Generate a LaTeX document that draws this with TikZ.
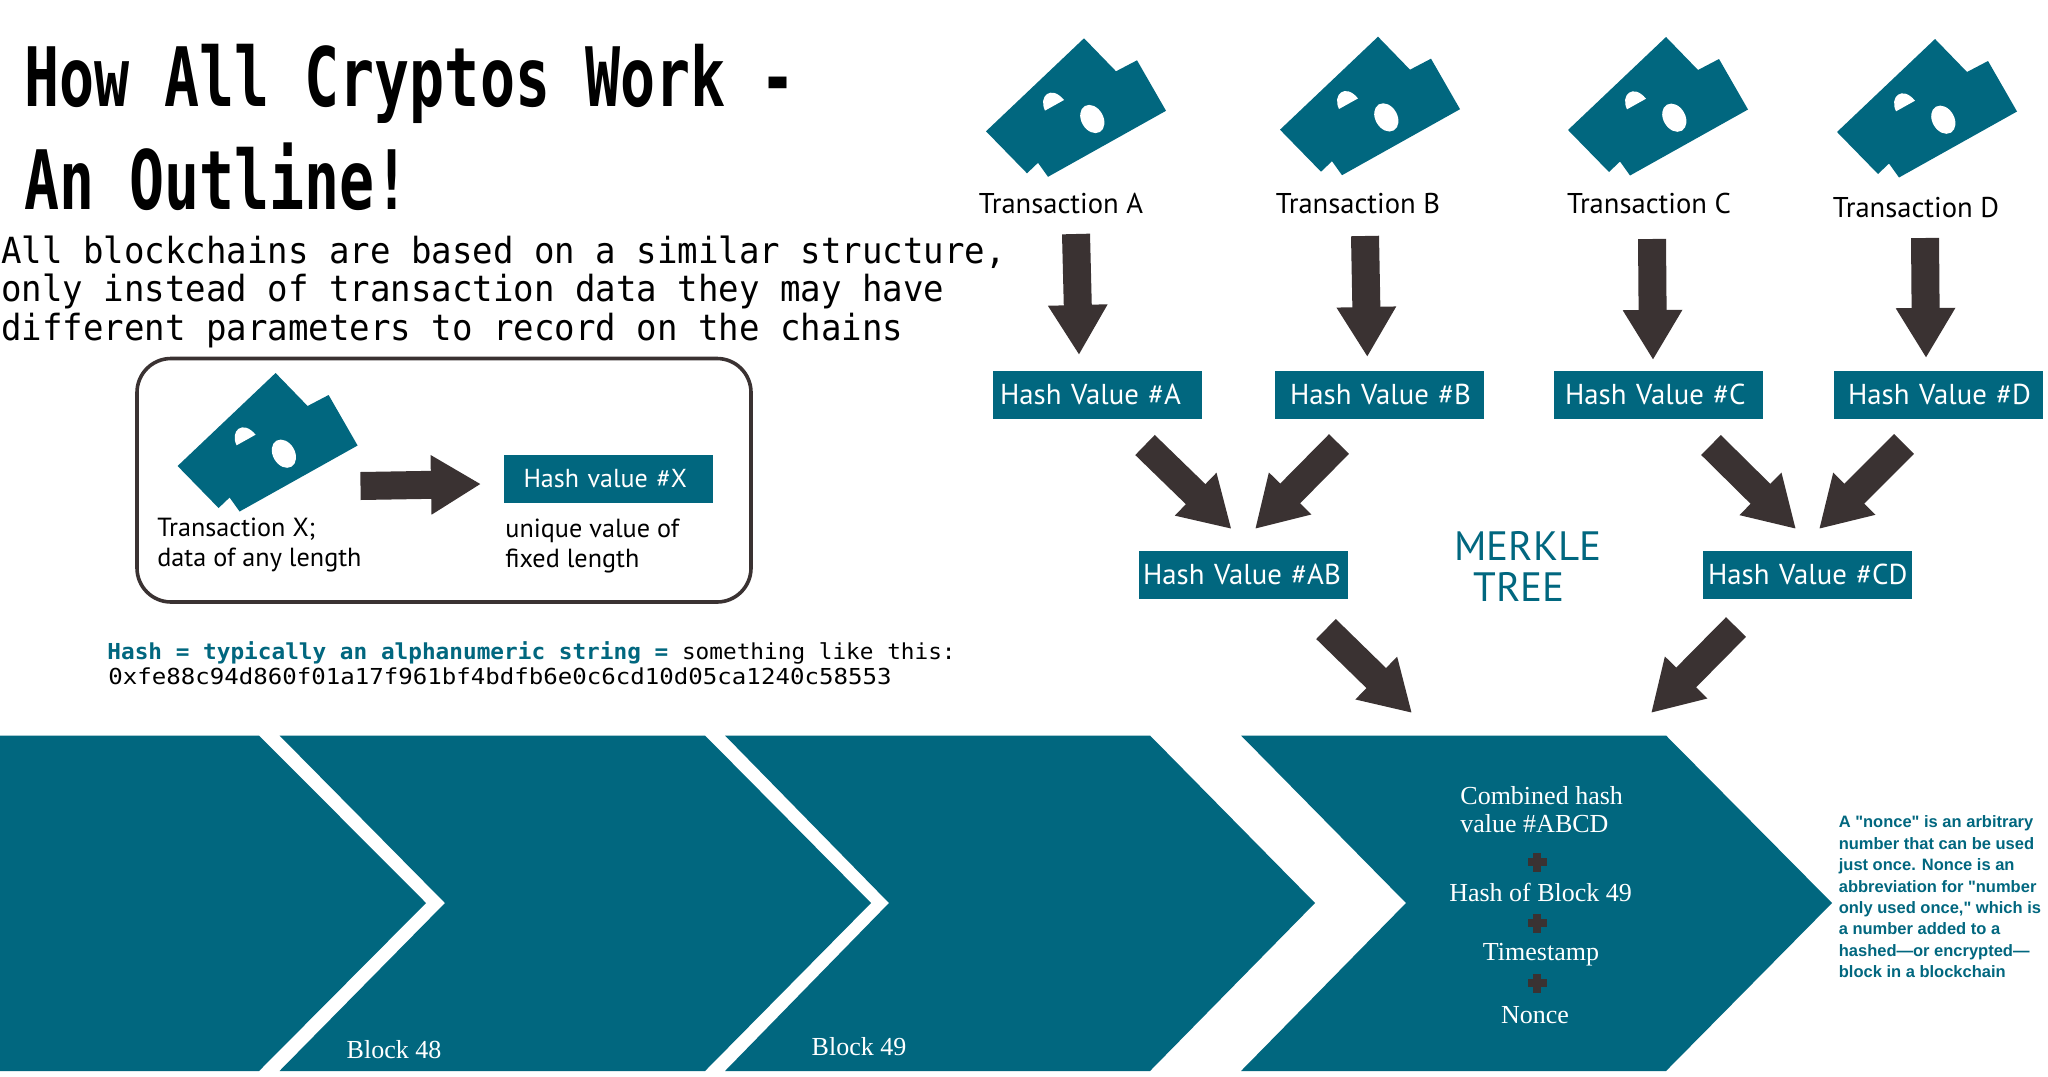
\documentclass[tikz,border=0pt]{standalone}
\usepackage{fontspec}
\usetikzlibrary{arrows.meta}
\setmainfont{PT Sans}
\newfontfamily\titlefont[FakeStretch=0.71]{DejaVu Sans Mono}
\newfontfamily\bodyfont[FakeStretch=0.946]{DejaVu Sans Mono}
\newfontfamily\hashfont[FakeStretch=1.033]{DejaVu Sans Mono}
\newfontfamily\hexfont[FakeStretch=1.095]{DejaVu Sans Mono}
\newfontfamily\decofont{Liberation Serif}
\newfontfamily\noncefont{Liberation Sans}
\newcommand{\fs}[1]{\fontsize{#1}{#1}\selectfont}
\newcommand{\hv}[2]{\hspace*{#1pt}\raisebox{1pt}{#2}}
\definecolor{tealc}{HTML}{01677F}
\definecolor{darkc}{HTML}{3A3232}
\tikzset{
  fatarrow/.style={draw=darkc,line width=14pt,-{Triangle[length=25pt,width=28pt]}},
  hashbox/.style={fill=tealc,text=white,minimum width=104.5pt,text width=104.5pt,align=left,minimum height=24pt,inner sep=0pt,font=\fs{14.4}},
  txlabel/.style={inner sep=0pt,anchor=base,font=\fs{14.3},text=black},
  plainlabel/.style={inner sep=0pt,anchor=base west,font=\fs{13.1},text=black},
  decolabel/.style={inner sep=0pt,text=white,font=\decofont\fs{13}},
  chevron/.style={fill=tealc,draw=none},
}
\newcommand{\ticket}[2]{%
  \begin{scope}[shift={(#1,#2)}]
    \fill[tealc] (0,0) -- (32,33) -- (53,22) -- (82,72.5) -- (-36,138.5) -- (-46,124.5) -- (-57,135) -- (-98,93) -- cycle;
    \fill[white] (-39,72.3) .. controls (-46,58) and (-33,46) .. (-20,61.7) -- cycle;
    \fill[white] (8.3,80.7) ellipse [x radius=15,y radius=11,rotate=-60];
  \end{scope}}
\newcommand{\plusmark}[2]{%
  \fill[darkc] (#1-9.5,#2-4) rectangle (#1+9.5,#2+4);
  \fill[darkc] (#1-4,#2-9.5) rectangle (#1+4,#2+9.5);}
\begin{document}
\begin{tikzpicture}[x=0.5pt,y=-0.5pt]
\path[use as bounding box,fill=white] (0,0) rectangle (2048,1076);

% title and intro
\node[inner sep=0pt,anchor=base west] (title1) at (24,106.5) {\titlefont\bfseries\fs{41}How All Cryptos Work -};
\node[inner sep=0pt,anchor=base west] (title2) at (24,209) {\titlefont\bfseries\fs{41}An Outline!};
\node[inner sep=0pt,anchor=base west] (intro1) at (1,263.6) {\bodyfont\fs{18}All blockchains are based on a similar structure,};
\node[inner sep=0pt,anchor=base west] (intro2) at (1,301.7) {\bodyfont\fs{18}only instead of transaction data they may have};
\node[inner sep=0pt,anchor=base west] (intro3) at (1,340.3) {\bodyfont\fs{18}different parameters to record on the chains};

% legend box
\draw[darkc,line width=1.8pt,rounded corners=17pt] (137,358.5) rectangle (751,602);
\ticket{275.6}{373}
\node[plainlabel] (txX1) at (157,536) {Transaction X;};
\node[plainlabel] (txX2) at (157,566) {data of any length};
\node[hashbox,font=\fs{13}] (hashX) at (608,478.5) {\hspace*{10pt}Hash value \#X};
\node[plainlabel] (uniq1) at (505,537) {unique value of};
\node[plainlabel] (uniq2) at (505,567) {fixed length};
\coordinate (xS) at (360.5,486);
\coordinate (xE) at (481,484);
\draw[fatarrow] (xS) -- (xE);

% hash explanation
\node[inner sep=0pt,anchor=base west] (hashline) at (107,659) {\hashfont\fs{11}\textcolor{tealc}{\bfseries Hash = typically an alphanumeric string =} something like this:};
\node[inner sep=0pt,anchor=base west] (hexline) at (108,684.5) {\hexfont\fs{11}0xfe88c94d860f01a17f961bf4bdfb6e0c6cd10d05ca1240c58553};

% transactions
\ticket{1084}{38.3}
\ticket{1378}{36.7}
\ticket{1666}{37}
\ticket{1935}{39}
\node[txlabel] (txA) at (1061,213) {Transaction A};
\node[txlabel] (txB) at (1358,213) {Transaction B};
\node[txlabel] (txC) at (1649,213) {Transaction C};
\node[txlabel] (txD) at (1916,217) {Transaction D};

% hash boxes
\node[hashbox] (hashA) at (1097.5,395) {\hv{3.5}{Hash Value \#A}};
\node[hashbox] (hashB) at (1379.5,395) {\hv{7.5}{Hash Value \#B}};
\node[hashbox] (hashC) at (1658.5,395) {\hv{5.5}{Hash Value \#C}};
\node[hashbox] (hashD) at (1938.5,395) {\hv{7}{Hash Value \#D}};
\node[hashbox] (hashAB) at (1243.5,575) {\hv{2}{Hash Value \#AB}};
\node[hashbox] (hashCD) at (1807.5,575) {\hv{2.5}{Hash Value \#CD}};
\node[inner sep=0pt,text=tealc,font=\fs{20.5}] (merkle) at (1528,546) {MERKLE};
\node[inner sep=0pt,text=tealc,font=\fs{20.5}] (tree) at (1519,587) {TREE};

% arrows
\coordinate (aS) at (1076,234);   \coordinate (aE) at (1079,355);
\coordinate (bS) at (1365,236);   \coordinate (bE) at (1367.3,357);
\coordinate (cS) at (1652,239);   \coordinate (cE) at (1653,360);
\coordinate (dS) at (1925,238);   \coordinate (dE) at (1926,358);
\coordinate (e1S) at (1145,445);  \coordinate (e1E) at (1231.5,529);
\coordinate (e2S) at (1339,444);  \coordinate (e2E) at (1255,529);
\coordinate (e3S) at (1711,445);  \coordinate (e3E) at (1796,529);
\coordinate (e4S) at (1904,444);  \coordinate (e4E) at (1819,529);
\coordinate (f1S) at (1326,629);  \coordinate (f1E) at (1412,713);
\coordinate (f2S) at (1736,627);  \coordinate (f2E) at (1651,713);
\foreach \p in {a,b,c,d,e1,e2,e3,e4,f1,f2} {\draw[fatarrow] (\p S) -- (\p E);}

% blocks
\fill[chevron] (0,735.5) -- (259,735.5) -- (426,903) -- (259,1071) -- (0,1071) -- cycle;
\fill[chevron] (279.5,735.5) -- (705,735.5) -- (871,903) -- (705,1071) -- (279.5,1071) -- (445,903) -- cycle;
\fill[chevron] (725,735.5) -- (1150,735.5) -- (1315,903) -- (1150,1071) -- (725,1071) -- (889,903) -- cycle;
\fill[chevron] (1241,735.5) -- (1666,735.5) -- (1832,903) -- (1666,1071) -- (1241,1071) -- (1406,903) -- cycle;
\node[decolabel] (b48) at (394,1050) {Block 48};
\node[decolabel] (b49) at (859,1047) {Block 49};
\node[decolabel,anchor=west] (comb1) at (1460,796) {Combined hash};
\node[decolabel,anchor=west] (comb2) at (1460,824) {value \#ABCD};
\node[decolabel] (hash49) at (1540.6,892) {Hash of Block 49};
\node[decolabel] (stamp) at (1541,955) {Timestamp};
\node[decolabel] (nonce) at (1535,1015) {Nonce};
\plusmark{1537}{862}
\plusmark{1537}{923}
\plusmark{1537}{983}

% nonce note
\node[inner sep=0pt,anchor=north west,align=left,text=tealc,font={\noncefont\bfseries\fontsize{8.25}{10.7}\selectfont}] (note) at (1838.4,815.5) {A "nonce" is an arbitrary\\number that can be used\\just once. Nonce is an\\abbreviation for "number\\only used once," which is\\a number added to a\\hashed—or encrypted—\\block in a blockchain};
\end{tikzpicture}
\end{document}
